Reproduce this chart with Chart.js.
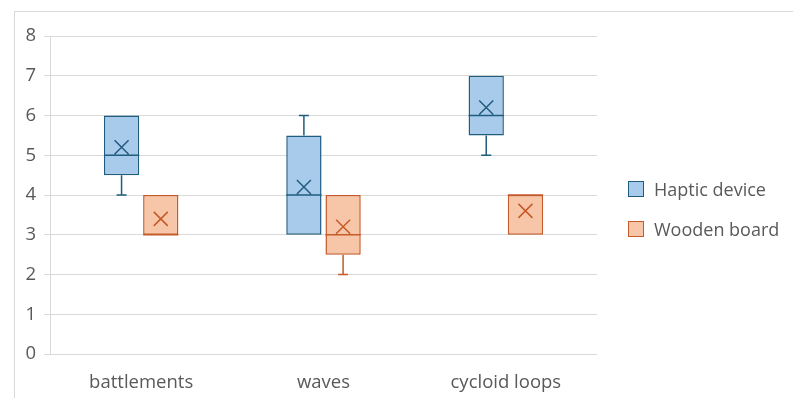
<!DOCTYPE html>
<html>
<head>
<meta charset="utf-8">
<script src="https://cdn.jsdelivr.net/npm/chart.js@4"></script>
<style>
  html, body { margin: 0; padding: 0; background: #fff; overflow: hidden; }
  #wrap { position: relative; width: 793px; height: 398px; }
  #frame { position: absolute; left: 14px; top: 11px; width: 820px; height: 420px; border: 1px solid #d9d9d9; box-sizing: border-box; }
  canvas { position: absolute; left: 0; top: 0; }
  .leg { position: absolute; left: 628px; font-family: "Open Sans", sans-serif; font-size: 18px; color: #595959; white-space: nowrap; }
  .leg span.sw { position: absolute; left: 0; width: 16px; height: 16px; box-sizing: border-box; border: 1.5px solid; }
  .leg span.tx { position: absolute; left: 26px; top: -5px; line-height: 26px; }
</style>
</head>
<body>
<div id="wrap">
  <div id="frame"></div>
  <canvas id="c" width="793" height="398"></canvas>
  <div class="leg" id="leg0" style="top:181px"><span class="sw"></span><span class="tx"></span></div>
  <div class="leg" id="leg1" style="top:221px"><span class="sw"></span><span class="tx"></span></div>
</div>
<script>
// ---- data ----
const categories = ["battlements", "waves", "cycloid loops"];
const seriesNames = ["Haptic device", "Wooden board"];
const hapticMin    = [4,   3,   5];
const hapticQ1     = [4.5, 3,   5.5];
const hapticMedian = [5,   4,   6];
const hapticQ3     = [6,   5.5, 7];
const hapticMax    = [6,   6,   7];
const hapticMean   = [5.2, 4.2, 6.2];
const woodMin      = [3,   2,   3];
const woodQ1       = [3,   2.5, 3];
const woodMedian   = [3,   3,   4];
const woodQ3       = [4,   4,   4];
const woodMax      = [4,   4,   4];
const woodMean     = [3.4, 3.2, 3.6];
const yTicks = [0, 1, 2, 3, 4, 5, 6, 7, 8];

const colors = {
  haptic: { fill: "#A9CBEB", line: "#1F5C7E" },
  wood:   { fill: "#F7C6A8", line: "#C65A28" }
};

const stats = [
  { min: hapticMin, q1: hapticQ1, med: hapticMedian, q3: hapticQ3, max: hapticMax, mean: hapticMean },
  { min: woodMin, q1: woodQ1, med: woodMedian, q3: woodQ3, max: woodMax, mean: woodMean }
];

const boxPlugin = {
  id: "boxExtras",
  afterDatasetsDraw(chart) {
    const ctx = chart.ctx;
    const y = chart.scales.y;
    chart.data.datasets.forEach((ds, di) => {
      const meta = chart.getDatasetMeta(di);
      const s = stats[di];
      meta.data.forEach((bar, i) => {
        const x = bar.x;
        const w = bar.width;
        ctx.save();
        ctx.strokeStyle = ds.borderColor;
        ctx.lineWidth = 1.5;
        const yq1 = y.getPixelForValue(s.q1[i]);
        const yq3 = y.getPixelForValue(s.q3[i]);
        const ymin = y.getPixelForValue(s.min[i]);
        const ymax = y.getPixelForValue(s.max[i]);
        const ymed = y.getPixelForValue(s.med[i]);
        const ymean = y.getPixelForValue(s.mean[i]);
        const cap = 5;
        ctx.beginPath();
        if (s.min[i] < s.q1[i]) {
          ctx.moveTo(x, yq1); ctx.lineTo(x, ymin);
          ctx.moveTo(x - cap, ymin); ctx.lineTo(x + cap, ymin);
        }
        if (s.max[i] > s.q3[i]) {
          ctx.moveTo(x, yq3); ctx.lineTo(x, ymax);
          ctx.moveTo(x - cap, ymax); ctx.lineTo(x + cap, ymax);
        }
        ctx.moveTo(x - w / 2, ymed); ctx.lineTo(x + w / 2, ymed);
        const m = 7;
        ctx.moveTo(x - m, ymean - m); ctx.lineTo(x + m, ymean + m);
        ctx.moveTo(x - m, ymean + m); ctx.lineTo(x + m, ymean - m);
        ctx.stroke();
        ctx.restore();
      });
    });
  }
};

const font = { family: "'Open Sans', sans-serif", size: 18.5 };

new Chart(document.getElementById("c"), {
  type: "bar",
  data: {
    labels: categories,
    datasets: [
      {
        label: seriesNames[0],
        data: hapticQ1.map((v, i) => [v, hapticQ3[i]]),
        backgroundColor: colors.haptic.fill,
        borderColor: colors.haptic.line,
        borderWidth: 1.5,
        borderSkipped: false,
        barPercentage: 0.9,
        categoryPercentage: 0.43
      },
      {
        label: seriesNames[1],
        data: woodQ1.map((v, i) => [v, woodQ3[i]]),
        backgroundColor: colors.wood.fill,
        borderColor: colors.wood.line,
        borderWidth: 1.5,
        borderSkipped: false,
        barPercentage: 0.9,
        categoryPercentage: 0.43
      }
    ]
  },
  options: {
    responsive: false,
    animation: false,
    devicePixelRatio: 1,
    layout: { padding: { left: 0, right: 196, top: 36, bottom: 0 } },
    plugins: { legend: { display: false }, tooltip: { enabled: false } },
    scales: {
      x: {
        grid: { display: false, drawTicks: false },
        border: { display: false },
        ticks: { font: font, color: "#595959", padding: 18 },
        afterFit: s => { s.height = 44; }
      },
      y: {
        min: 0, max: 8,
        afterBuildTicks: s => { s.ticks = yTicks.map(v => ({ value: v })); },
        grid: { color: "#d9d9d9", lineWidth: 1, drawTicks: true, tickLength: 6 },
        border: { display: true, color: "#d9d9d9", width: 1 },
        ticks: { font: font, color: "#595959", padding: 8 },
        afterFit: s => { s.width = 50; }
      }
    }
  },
  plugins: [boxPlugin]
});

// legend
[["leg0", colors.haptic], ["leg1", colors.wood]].forEach(([id, c], i) => {
  const el = document.getElementById(id);
  el.querySelector(".sw").style.background = c.fill;
  el.querySelector(".sw").style.borderColor = c.line;
  el.querySelector(".tx").textContent = seriesNames[i];
});
</script>
</body>
</html>
